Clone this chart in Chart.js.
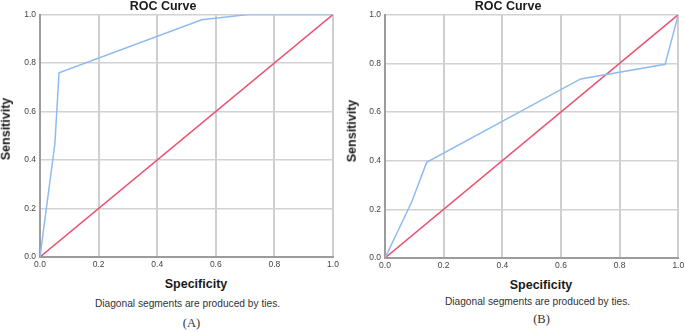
<!DOCTYPE html>
<html>
<head>
<meta charset="utf-8">
<script src="https://cdn.jsdelivr.net/npm/chart.js@4.4.1/dist/chart.umd.min.js"></script>
<style>
  html, body { margin:0; padding:0; background:#fff; width:685px; height:332px; overflow:hidden; }
  .wrap { position:relative; width:685px; height:332px; overflow:hidden; }
  canvas { position:absolute; }
  .t { position:absolute; transform:translate(-50%,-50%); white-space:nowrap; font-family:"Liberation Sans", Arial, sans-serif; color:#1a1a1a; line-height:1; }
  .title { font-weight:bold; font-size:12.5px; }
  .axt { font-weight:bold; font-size:12.5px; }
  .cap { font-size:10.2px; color:#333; }
  .lab { font-family:"Liberation Serif", "Times New Roman", serif; font-size:12.5px; color:#333; }
  .rot { transform:translate(-50%,-50%) rotate(-90deg); }
</style>
</head>
<body>
<div class="wrap">
  <canvas id="cA" width="345" height="275" style="left:0;top:0;"></canvas>
  <canvas id="cB" width="350" height="276" style="left:345px;top:0;"></canvas>

  <div class="t title" style="left:163px;top:5.5px;">ROC Curve</div>
  <div class="t axt rot" style="left:5.5px;top:129px;">Sensitivity</div>
  <div class="t axt" style="left:196px;top:284px;">Specificity</div>
  <div class="t cap" style="left:187.5px;top:304px;">Diagonal segments are produced by ties.</div>
  <div class="t lab" style="left:191.5px;top:323px;">(A)</div>

  <div class="t title" style="left:508px;top:5.5px;">ROC Curve</div>
  <div class="t axt rot" style="left:352px;top:131px;">Sensitivity</div>
  <div class="t axt" style="left:541px;top:285px;">Specificity</div>
  <div class="t cap" style="left:537.5px;top:301.5px;">Diagonal segments are produced by ties.</div>
  <div class="t lab" style="left:541.5px;top:319px;">(B)</div>
</div>
<script>
// ---- data ----
const tickValues = [0, 0.2, 0.4, 0.6, 0.8, 1.0];
const rocA_specificity = [0, 0.051, 0.065, 0.552, 0.711, 1.0];
const rocA_sensitivity = [0, 0.47, 0.76, 0.978, 1.0, 1.0];
const rocB_specificity = [0, 0.091, 0.142, 0.667, 0.955, 1.0];
const rocB_sensitivity = [0, 0.23, 0.393, 0.736, 0.796, 1.0];
const reference_x = [0, 1];
const reference_y = [0, 1];

function pts(xs, ys) { return xs.map((x, i) => ({ x: x, y: ys[i] })); }

function makeChart(id, xs, ys, pad) {
  const ctx = document.getElementById(id);
  return new Chart(ctx, {
    type: 'scatter',
    data: {
      datasets: [
        { data: pts(xs, ys), showLine: true, borderColor: 'rgb(143,187,240)', borderWidth: 1.5, pointRadius: 0, tension: 0 },
        { data: pts(reference_x, reference_y), showLine: true, borderColor: 'rgb(232,84,114)', borderWidth: 1.5, pointRadius: 0, tension: 0 }
      ]
    },
    options: {
      responsive: false,
      animation: false,
      layout: { padding: pad },
      plugins: { legend: { display: false }, tooltip: { enabled: false }, title: { display: false } },
      scales: {
        x: {
          type: 'linear', min: 0, max: 1,
          afterBuildTicks: (s) => { s.ticks = tickValues.map(v => ({ value: v })); },
          ticks: { callback: (v) => Number(v).toFixed(1), color: '#444', font: { family: 'Liberation Sans', size: 8.5 }, padding: 3, maxRotation: 0 },
          grid: { color: '#cfcfcf', lineWidth: 2, drawTicks: false },
          border: { display: true, color: '#9c9c9c', width: 2 },
          afterFit: (s) => { s.height = 18; }
        },
        y: {
          type: 'linear', min: 0, max: 1,
          afterBuildTicks: (s) => { s.ticks = tickValues.map(v => ({ value: v })); },
          ticks: { callback: (v) => Number(v).toFixed(1), color: '#444', font: { family: 'Liberation Sans', size: 8.5 }, padding: 4 },
          grid: { color: '#d2d2d2', lineWidth: 1.5, drawTicks: false },
          border: { display: true, color: '#9c9c9c', width: 2 },
          afterFit: (s) => { s.width = 40; }
        }
      }
    }
  });
}

makeChart('cA', rocA_specificity, rocA_sensitivity, { top: 14.5, right: 12, bottom: 0, left: 0 });
makeChart('cB', rocB_specificity, rocB_sensitivity, { top: 14.7, right: 16.7, bottom: 0, left: 0 });
</script>
</body>
</html>
